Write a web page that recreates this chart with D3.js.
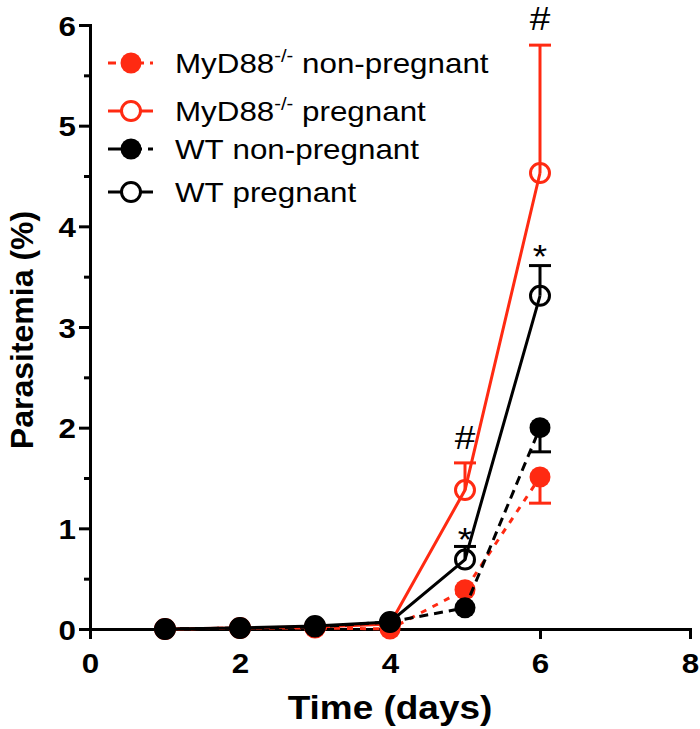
<!DOCTYPE html>
<html><head><meta charset="utf-8">
<script src="https://cdn.jsdelivr.net/npm/d3@7"></script>
<style>body{margin:0;background:#fff}svg{display:block}text{font-family:"Liberation Sans",Arial,sans-serif}</style>
</head><body>
<script>
// ---- data ----
const days = [1, 2, 3, 4, 5, 6];
const myd88NonPreg = [0, 0.01, 0.01, 0.0, 0.39, 1.51];
const myd88NonPregErr = [0, 0, 0, 0, 0, 0.26];
const myd88Preg = [0, 0.01, 0.02, 0.05, 1.38, 4.53];
const myd88PregErr = [0, 0, 0, 0, 0.27, 1.27];
const wtNonPreg = [0, 0.01, 0.02, 0.07, 0.21, 2.0];
const wtNonPregErr = [0, 0, 0, 0, 0, 0.24];
const wtPreg = [0, 0.01, 0.03, 0.07, 0.69, 3.31];
const wtPregErr = [0, 0, 0, 0, 0.13, 0.30];
const seriesNames = ["MyD88 non-pregnant", "MyD88 pregnant", "WT non-pregnant", "WT pregnant"];
const xTicks = [0, 2, 4, 6, 8];
const yTicks = [0, 1, 2, 3, 4, 5, 6];
// significance marks: [series index, day, symbol]
const marks = [[1, 5, "#"], [1, 6, "#"], [3, 5, "*"], [3, 6, "*"]];

const RED = "#ff2a12", BLACK = "#000";
const series = [
  {name: seriesNames[0], vals: myd88NonPreg, err: myd88NonPregErr, dir: -1, color: RED, filled: true, dash: "6,7"},
  {name: seriesNames[1], vals: myd88Preg, err: myd88PregErr, dir: 1, color: RED, filled: false, dash: null},
  {name: seriesNames[2], vals: wtNonPreg, err: wtNonPregErr, dir: -1, color: BLACK, filled: true, dash: "9,6"},
  {name: seriesNames[3], vals: wtPreg, err: wtPregErr, dir: 1, color: BLACK, filled: false, dash: null}
];

const W = 700, H = 729, SX = 1.12;
const svg = d3.select("body").append("svg").attr("width", W).attr("height", H);
const x = d3.scaleLinear().domain([0, 8]).range([90, 690]);
const y = d3.scaleLinear().domain([0, 6]).range([629, 25]);

// axes
const xAxis = svg.append("g").attr("transform", `translate(0,${y(0)})`)
  .call(d3.axisBottom(x).tickValues(xTicks).tickSize(10).tickFormat(d3.format("d")));
const yAxis = svg.append("g").attr("transform", `translate(${x(0)},0)`)
  .call(d3.axisLeft(y).tickValues(yTicks).tickSize(11).tickFormat(d3.format("d")));
// minor y ticks
svg.append("g").attr("transform", `translate(${x(0)},0)`)
  .call(d3.axisLeft(y).tickValues(d3.range(0.5, 6, 1)).tickSize(6).tickFormat(""))
  .call(g => g.select(".domain").remove());
svg.selectAll(".domain, .tick line").attr("stroke", "#000").attr("stroke-width", 3);
xAxis.selectAll(".tick text").attr("font-size", 28).attr("font-weight", "bold").attr("fill", "#000")
  .attr("dy", null).attr("y", 0)
  .attr("transform", "translate(0,44) scale(1.12,1)");
yAxis.selectAll(".tick text").attr("font-size", 28).attr("font-weight", "bold").attr("fill", "#000")
  .attr("x", 0).attr("dy", "0.36em").attr("transform", "translate(-14,0) scale(1.12,1)");

// titles
svg.append("text").attr("transform", `translate(${(x(0)+x(8))/2},719) scale(${SX},1)`)
  .attr("text-anchor", "middle").attr("font-size", 33).attr("font-weight", "bold").text("Time (days)");
svg.append("text").attr("transform", `translate(33,330) rotate(-90)`)
  .attr("text-anchor", "middle").attr("font-size", 32).attr("font-weight", "bold").text("Parasitemia (%)");

const plot = svg.append("g");
const line = d3.line().x((d, i) => x(days[i])).y(d => y(d));
series.forEach(s => {
  const g = plot.append("g");
  s.vals.forEach((v, i) => {
    if (s.err[i] > 0) {
      const ye = y(v + s.dir * s.err[i]);
      g.append("line").attr("x1", x(days[i])).attr("x2", x(days[i])).attr("y1", y(v)).attr("y2", ye)
        .attr("stroke", s.color).attr("stroke-width", 3);
      g.append("line").attr("x1", x(days[i]) - 11).attr("x2", x(days[i]) + 11).attr("y1", ye).attr("y2", ye)
        .attr("stroke", s.color).attr("stroke-width", 3);
    }
  });
  g.append("path").attr("d", line(s.vals)).attr("fill", "none").attr("stroke", s.color)
    .attr("stroke-width", 3).attr("stroke-dasharray", s.dash);
  g.selectAll("circle").data(s.vals).join("circle")
    .attr("cx", (d, i) => x(days[i])).attr("cy", d => y(d))
    .attr("r", s.filled ? 10.5 : 9.5)
    .attr("fill", s.filled ? s.color : "none")
    .attr("stroke", s.color).attr("stroke-width", s.filled ? 0 : 3);
});

// significance marks
marks.forEach(([si, day, sym]) => {
  const s = series[si], i = days.indexOf(day);
  const top = y(s.vals[i] + s.err[i]);
  const off = sym === "#" ? (day === 6 ? -15 : -14) : (day === 6 ? 2 : 5);
  svg.append("text").attr("transform", `translate(${x(day)},${top + off}) scale(${SX},1)`)
    .attr("text-anchor", "middle").attr("font-size", 33).attr("fill", "#000").text(sym);
});

// legend
const legY = [63, 111, 149, 192];
series.forEach((s, k) => {
  const g = svg.append("g").attr("transform", `translate(0,${legY[k]})`);
  g.append("line").attr("x1", 108).attr("x2", 153).attr("y1", 0).attr("y2", 0)
    .attr("stroke", s.color).attr("stroke-width", 3).attr("stroke-dasharray", s.dash ? (k === 0 ? "8,6" : "14,6") : null);
  g.append("circle").attr("cx", 131).attr("cy", 0).attr("r", s.filled ? 10.5 : 9.5)
    .attr("fill", s.filled ? s.color : "#fff").attr("stroke", s.color).attr("stroke-width", s.filled ? 0 : 3);
  const t = g.append("text").attr("transform", `translate(175,10) scale(${SX},1)`).attr("font-size", 28).attr("fill", "#000");
  const parts = s.name.split(" ");
  t.append("tspan").text(parts[0]);
  if (parts[0] === "MyD88") {
    t.append("tspan").attr("font-size", 18).attr("dy", -11).text("-/-");
    t.append("tspan").attr("dy", 11).text(" " + parts.slice(1).join(" "));
  } else {
    t.append("tspan").text(" " + parts.slice(1).join(" "));
  }
});
</script>
</body></html>
